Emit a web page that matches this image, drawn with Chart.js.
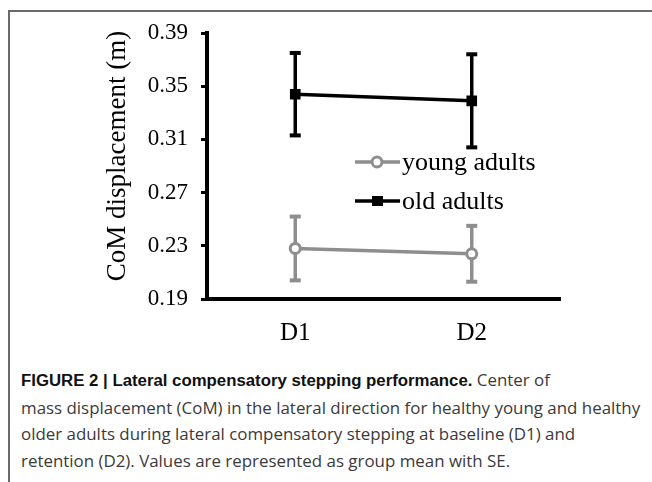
<!DOCTYPE html>
<html>
<head>
<meta charset="utf-8">
<script src="https://cdn.jsdelivr.net/npm/chart.js@4"></script>
<style>
  html, body { margin: 0; padding: 0; background: #fff; }
  body { width: 652px; height: 482px; position: relative; overflow: hidden; }
  #frame { position: absolute; left: 8px; top: 10px; width: 660px; height: 480px;
           border-top: 2px solid #6a6a6a; border-left: 2px solid #6a6a6a; box-sizing: border-box; }
  #wrap { position: absolute; left: 0; top: 0; width: 652px; height: 350px; }
  #caption { position: absolute; left: 21px; top: 367px; width: 640px; white-space: nowrap;
             font-family: "Open Sans", "Liberation Sans", Arial, sans-serif; font-size: 16.9px; line-height: 26.5px;
             color: #3a3a3a; }
  #caption b { color: #111; font-family: "Liberation Sans", Arial, sans-serif; font-size: 16.8px; }
</style>
</head>
<body>
<div id="frame"></div>
<div id="wrap"><canvas id="c"></canvas></div>
<div id="caption"><b>FIGURE 2 | Lateral compensatory stepping performance.</b> Center of<br>mass displacement (CoM) in the lateral direction for healthy young and healthy<br>older adults during lateral compensatory stepping at baseline (D1) and<br>retention (D2). Values are represented as group mean with SE.</div>
<script>
const categories = ["D1", "D2"];
const youngMean = [0.228, 0.224];
const youngSE = [0.024, 0.021];
const oldMean = [0.344, 0.339];
const oldSE = [0.031, 0.035];
const yTicks = [0.19, 0.23, 0.27, 0.31, 0.35, 0.39];
const yTitle = "CoM displacement (m)";
const seriesNames = ["young adults", "old adults"];

const GRAY = "#8e8e8e";
const BLACK = "#000";
const SERIF = '"Liberation Serif", "Times New Roman", serif';

const errorBars = {
  id: "errorBars",
  beforeDatasetsDraw(chart) {
    const ctx = chart.ctx;
    const xs = chart.scales.x, ys = chart.scales.y;
    const sets = [[youngMean, youngSE, GRAY], [oldMean, oldSE, BLACK]];
    ctx.save();
    sets.forEach(([m, se, col]) => {
      m.forEach((v, i) => {
        const x = xs.getPixelForValue(i);
        const yt = ys.getPixelForValue(v + se[i]);
        const yb = ys.getPixelForValue(v - se[i]);
        ctx.strokeStyle = col;
        ctx.lineWidth = 3.5;
        ctx.beginPath();
        ctx.moveTo(x, yt); ctx.lineTo(x, yb);
        ctx.stroke();
        ctx.fillStyle = col;
        ctx.fillRect(x - 5.5, yt - 2, 11, 4);
        ctx.fillRect(x - 5.5, yb - 2, 11, 4);
      });
    });
    ctx.restore();
  },
  afterDraw(chart) {
    const ctx = chart.ctx;
    ctx.save();
    ctx.translate(118, 156);
    ctx.rotate(-Math.PI / 2);
    ctx.font = '27px ' + SERIF;
    ctx.fillStyle = "#000";
    ctx.textAlign = "center";
    ctx.textBaseline = "middle";
    ctx.fillText(yTitle, 0, 0);
    ctx.restore();

    ctx.save();
    const items = [
      { name: seriesNames[0], col: GRAY, y: 162, type: "circle" },
      { name: seriesNames[1], col: BLACK, y: 201, type: "rect" }
    ];
    items.forEach(it => {
      ctx.strokeStyle = it.col;
      ctx.lineWidth = 3.5;
      ctx.beginPath();
      ctx.moveTo(355, it.y); ctx.lineTo(400, it.y);
      ctx.stroke();
      if (it.type === "circle") {
        ctx.fillStyle = "#fff";
        ctx.lineWidth = 3;
        ctx.beginPath();
        ctx.arc(377, it.y, 5, 0, Math.PI * 2);
        ctx.fill(); ctx.stroke();
      } else {
        ctx.fillStyle = it.col;
        ctx.fillRect(372, it.y - 5, 11, 10);
      }
      ctx.fillStyle = "#000";
      ctx.font = '26px ' + SERIF;
      ctx.textAlign = "left";
      ctx.textBaseline = "middle";
      ctx.fillText(it.name, 402, it.y + 1);
    });
    ctx.restore();
  }
};

new Chart(document.getElementById("c"), {
  type: "line",
  data: {
    labels: categories,
    datasets: [
      { label: seriesNames[0], data: youngMean, borderColor: GRAY, borderWidth: 3.5,
        pointStyle: "circle", pointRadius: 5, pointBorderWidth: 3, pointBackgroundColor: "#fff",
        pointBorderColor: GRAY, tension: 0 },
      { label: seriesNames[1], data: oldMean, borderColor: BLACK, borderWidth: 3.5,
        pointStyle: "rect", pointRadius: 7.5, pointBorderWidth: 0, pointBackgroundColor: BLACK,
        pointBorderColor: BLACK, tension: 0 }
    ]
  },
  options: {
    responsive: true,
    maintainAspectRatio: false,
    animation: false,
    devicePixelRatio: 1,
    layout: { padding: { left: 0, top: 33, right: 92, bottom: 0 } },
    plugins: { legend: { display: false }, tooltip: { enabled: false } },
    scales: {
      x: {
        type: "category",
        offset: true,
        grid: { display: false, drawTicks: false },
        border: { display: true, color: "#000", width: 4 },
        ticks: { color: "#000", padding: 19, font: { family: SERIF, size: 25 } },
        afterFit(s) { s.height = 51; }
      },
      y: {
        min: 0.19, max: 0.39,
        afterBuildTicks(s) { s.ticks = yTicks.map(v => ({ value: v })); },
        grid: { display: true, drawOnChartArea: false, drawTicks: true, tickLength: 6,
                color: "#000", lineWidth: 3 },
        border: { display: true, color: "#000", width: 4 },
        ticks: { color: "#000", padding: 13, font: { family: SERIF, size: 23 },
                 callback: v => v.toFixed(2) },
        afterFit(s) { s.width = 207; }
      }
    }
  },
  plugins: [errorBars]
});
</script>
</body>
</html>
